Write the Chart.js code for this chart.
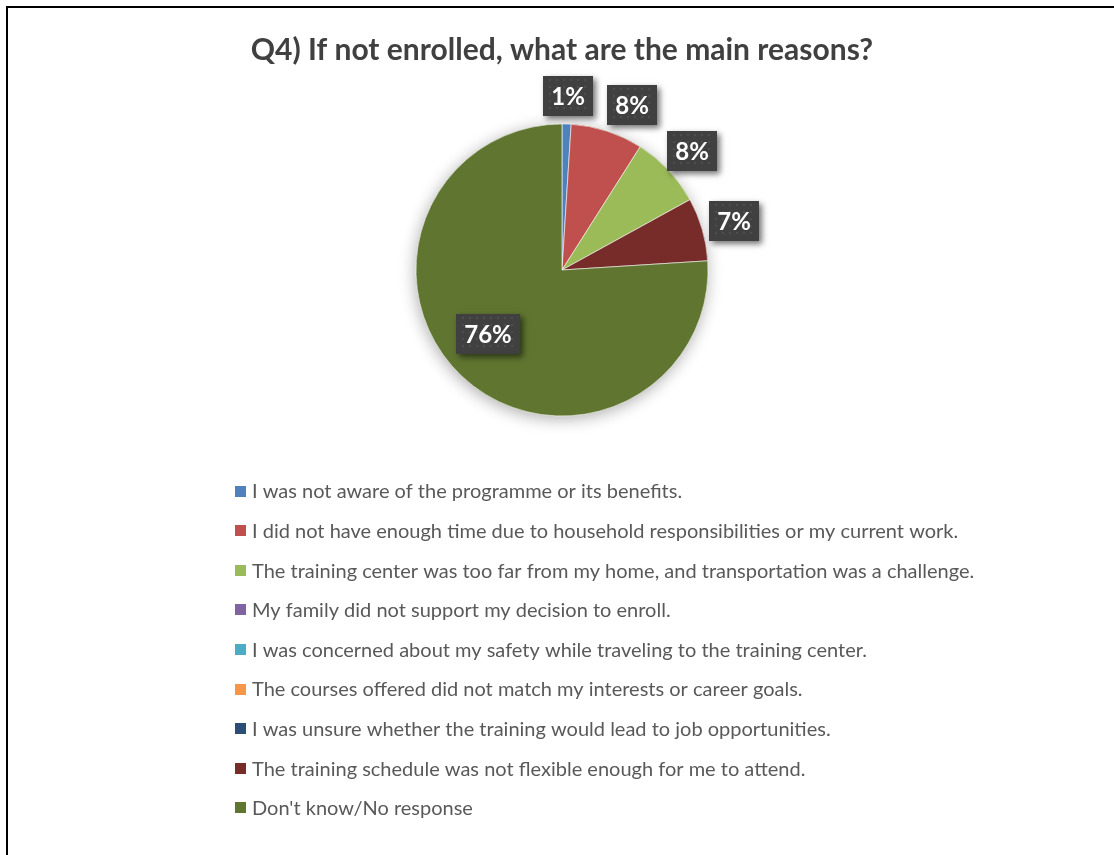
<!DOCTYPE html>
<html>
<head>
<meta charset="utf-8">
<title>Q4 reasons pie</title>
<script src="https://cdn.jsdelivr.net/npm/chart.js@4.4.1/dist/chart.umd.min.js"></script>
<style>
  html, body { margin: 0; padding: 0; background: #ffffff; }
  #wrap { position: relative; width: 1114px; height: 855px; overflow: hidden; }
  #c { position: absolute; left: 0; top: 0; }
  /* frame lines along the top and left edge of the sheet */
  #frame { position: absolute; left: 6px; top: 6px; right: -10px; bottom: -10px;
           border-top: 2px solid #000; border-left: 2px solid #000; pointer-events: none; }
</style>
</head>
<body>
<div id="wrap">
  <canvas id="c" width="1114" height="855"></canvas>
  <div id="frame"></div>
</div>
<script>
// Survey question and answer options
const chartTitle = 'Q4) If not enrolled, what are the main reasons?';

const categories = [
  'I was not aware of the programme or its benefits.',
  'I did not have enough time due to household responsibilities or my current work.',
  'The training center was too far from my home, and transportation was a challenge.',
  'My family did not support my decision to enroll.',
  'I was concerned about my safety while traveling to the training center.',
  'The courses offered did not match my interests or career goals.',
  'I was unsure whether the training would lead to job opportunities.',
  'The training schedule was not flexible enough for me to attend.',
  "Don't know/No response"
];

// Share of respondents, in percent
const shares = [1, 8, 8, 0, 0, 0, 0, 7, 76];

const sliceColors = [
  '#4F81BD', '#C0504D', '#9BBB59', '#8064A2', '#4BACC6',
  '#F79646', '#2C4D75', '#772C2A', '#5F7530'
];

const FONT = 'Lato, Carlito, Calibri, "Open Sans", sans-serif';

// Soft shadow under the whole pie
const pieShadow = {
  id: 'pieShadow',
  beforeDatasetsDraw(chart) {
    const arc = chart.getDatasetMeta(0).data[0];
    if (!arc) return;
    const { x, y, outerRadius } = arc.getProps(['x', 'y', 'outerRadius'], true);
    const ctx = chart.ctx;
    ctx.save();
    ctx.shadowColor = 'rgba(0,0,0,0.32)';
    ctx.shadowBlur = 16;
    ctx.shadowOffsetX = -1;
    ctx.shadowOffsetY = 3;
    ctx.beginPath();
    ctx.arc(x, y, outerRadius, 0, Math.PI * 2);
    ctx.fillStyle = '#5F7530';
    ctx.fill();
    ctx.restore();
  }
};

// Dark value boxes with white percentage text
const valueBoxes = {
  id: 'valueBoxes',
  afterDatasetsDraw(chart, args, opts) {
    const ctx = chart.ctx;
    const meta = chart.getDatasetMeta(0);
    const values = chart.data.datasets[0].data;
    const placed = [];
    ctx.save();
    ctx.font = 'bold ' + opts.fontSize + 'px ' + FONT;
    meta.data.forEach((arc, i) => {
      const v = values[i];
      if (!v) return;
      const p = arc.getProps(['x', 'y', 'startAngle', 'endAngle', 'outerRadius'], true);
      const text = v + '%';
      const w = Math.round(ctx.measureText(text).width + opts.padX * 2);
      const h = opts.boxHeight;
      let bx, by;
      if (v >= opts.insideFrom) {
        const mid = (p.startAngle + p.endAngle) / 2 + opts.insideTurn * Math.PI / 180;
        bx = p.x + Math.cos(mid) * p.outerRadius * opts.insideRatio;
        by = p.y + Math.sin(mid) * p.outerRadius * opts.insideRatio;
      } else {
        const mid = (p.startAngle + p.endAngle) / 2;
        const cx = Math.cos(mid), cy = Math.sin(mid);
        const r = p.outerRadius + opts.gap;
        bx = p.x + cx * r + cx * w / 2;
        by = p.y + cy * r + cy * h / 2;
      }
      let box = { l: bx - w / 2, t: by - h / 2, w, h };
      // push to the right until it clears earlier boxes
      let moved = true;
      while (moved) {
        moved = false;
        for (const b of placed) {
          if (box.l < b.l + b.w + opts.sep && box.l + box.w > b.l &&
              box.t < b.t + b.h && box.t + box.h > b.t) {
            box.l = b.l + b.w + opts.sep;
            moved = true;
          }
        }
      }
      placed.push(box);
      box.text = text;
    });
    placed.forEach(b => {
      const l = Math.round(b.l), t = Math.round(b.t);
      ctx.save();
      ctx.shadowColor = 'rgba(0,0,0,0.55)';
      ctx.shadowBlur = 6;
      ctx.shadowOffsetX = 3;
      ctx.shadowOffsetY = 3;
      ctx.fillStyle = '#404040';
      ctx.fillRect(l, t, b.w, b.h);
      ctx.restore();
      // faint dotted texture
      ctx.fillStyle = 'rgba(255,255,255,0.07)';
      for (let yy = t + 4; yy < t + b.h - 1; yy += 7) {
        for (let xx = l + 4 + ((yy - t) % 14 ? 3 : 0); xx < l + b.w - 1; xx += 7) {
          ctx.beginPath();
          ctx.arc(xx, yy, 1.3, 0, Math.PI * 2);
          ctx.fill();
        }
      }
      ctx.fillStyle = '#ffffff';
      ctx.textAlign = 'center';
      ctx.textBaseline = 'middle';
      ctx.fillText(b.text, l + b.w / 2, t + b.h / 2 + 1);
    });
    ctx.restore();
  }
};

// Single-column legend below the pie
const columnLegend = {
  id: 'columnLegend',
  afterDraw(chart, args, opts) {
    const ctx = chart.ctx;
    const colors = chart.data.datasets[0].backgroundColor;
    ctx.save();
    ctx.font = opts.fontSize + 'px ' + FONT;
    ctx.textBaseline = 'middle';
    ctx.textAlign = 'left';
    chart.data.labels.forEach((label, i) => {
      const yc = opts.top + i * opts.step;
      ctx.fillStyle = colors[i];
      ctx.fillRect(opts.left, Math.round(yc - opts.box / 2), opts.box, opts.box);
      ctx.fillStyle = '#595959';
      ctx.fillText(label, opts.left + opts.box + opts.textGap, yc + 1);
    });
    ctx.restore();
  }
};

new Chart(document.getElementById('c'), {
  type: 'pie',
  data: {
    labels: categories,
    datasets: [{
      data: shares,
      backgroundColor: sliceColors,
      borderColor: '#ffffff',
      borderWidth: shares.map(v => (v ? 0.6 : 0)),
      radius: 146
    }]
  },
  options: {
    responsive: false,
    animation: false,
    devicePixelRatio: 1,
    layout: { padding: { left: 10, right: 0, top: 0, bottom: 390 } },
    plugins: {
      legend: { display: false },
      tooltip: { enabled: false },
      title: {
        display: true,
        text: chartTitle,
        color: '#404040',
        font: { family: FONT, size: 30, weight: 'bold', lineHeight: 1.2 },
        padding: { top: 32, bottom: 7 }
      },
      valueBoxes: { fontSize: 24, padX: 8, boxHeight: 40, gap: 8, sep: 14, insideFrom: 50, insideRatio: 0.67, insideTurn: 6 },
      columnLegend: { left: 235, top: 491, step: 39.6, box: 11, textGap: 6, fontSize: 20 }
    }
  },
  plugins: [pieShadow, valueBoxes, columnLegend]
});
</script>
</body>
</html>
